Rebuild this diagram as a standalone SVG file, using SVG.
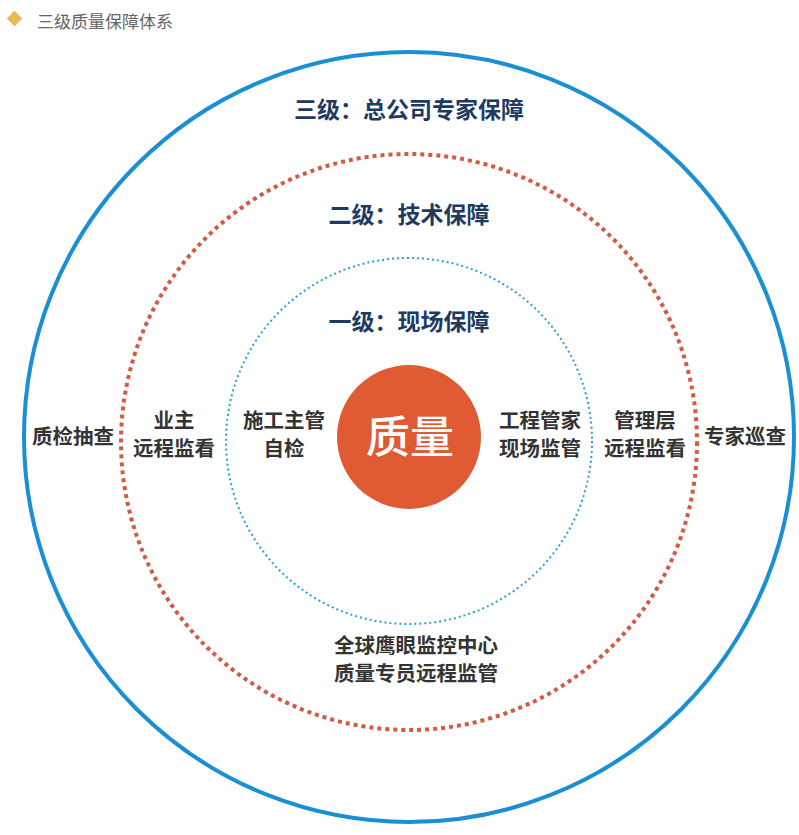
<svg xmlns="http://www.w3.org/2000/svg" width="799" height="835" viewBox="0 0 799 835">
<style>
.h{font-family:"Noto Sans CJK SC","Noto Sans CJK JP",sans-serif;font-weight:bold;font-size:23px;fill:#1e3a60;text-anchor:middle}
.t{font-family:"Noto Sans CJK SC","Noto Sans CJK JP",sans-serif;font-weight:bold;font-size:20.5px;fill:#333;text-anchor:middle}
</style>
<rect width="799" height="835" fill="#fff"/>
<g id="header">
<rect x="9" y="13" width="11" height="11" fill="#e9b956" transform="rotate(45 14.5 18.5)"/>
<text x="37" y="28" font-family="Noto Sans CJK SC,sans-serif" font-size="17" fill="#666">三级质量保障体系</text>
</g>
<g id="rings">
<circle id="level3" cx="409" cy="437" r="385" fill="none" stroke="#1a8fd1" stroke-width="4"/>
<circle id="level2" cx="409" cy="442" r="288" fill="none" stroke="#d45a45" stroke-width="4" stroke-dasharray="4 4"/>
<circle id="level1" cx="409" cy="441" r="183" fill="none" stroke="#2a9fd6" stroke-width="2" stroke-dasharray="2 3"/>
</g>
<g id="center">
<circle cx="409" cy="437" r="72" fill="#e05a34"/>
<text x="410" y="453" font-family="Noto Sans CJK SC,sans-serif" font-weight="500" font-size="44" fill="#fff" text-anchor="middle">质量</text>
</g>
<g id="labels3"><text class="h" x="409" y="118">三级：总公司专家保障</text></g>
<g id="labels2"><text class="h" x="409" y="223">二级：技术保障</text></g>
<g id="labels1"><text class="h" x="409" y="330">一级：现场保障</text></g>
<g id="n1"><text class="t" x="73" y="444">质检抽查</text></g>
<g id="n2"><text class="t" x="174" y="428">业主</text><text class="t" x="174" y="456">远程监看</text></g>
<g id="n3"><text class="t" x="284" y="428">施工主管</text><text class="t" x="284" y="456">自检</text></g>
<g id="n4"><text class="t" x="540" y="428">工程管家</text><text class="t" x="540" y="456">现场监管</text></g>
<g id="n5"><text class="t" x="645" y="428">管理层</text><text class="t" x="645" y="456">远程监看</text></g>
<g id="n6"><text class="t" x="745" y="444">专家巡查</text></g>
<g id="n7"><text class="t" x="416" y="653">全球鹰眼监控中心</text><text class="t" x="416" y="681">质量专员远程监管</text></g>
</svg>
